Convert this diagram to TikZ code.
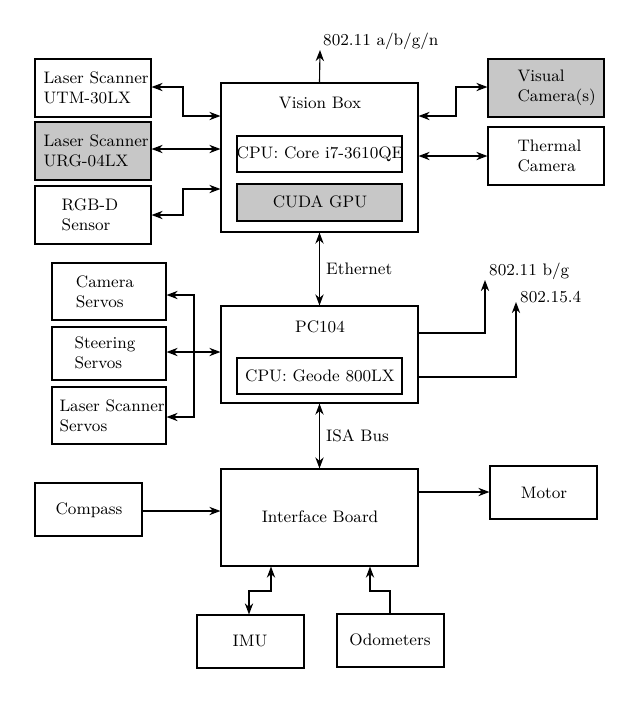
\documentclass[tikz,border=0pt]{standalone}
\usetikzlibrary{arrows.meta}
\begin{document}
\begin{tikzpicture}[x=0.54pt,y=-0.54pt,font=\fontsize{9}{10.5}\selectfont,
 box/.style={draw,semithick,inner sep=2pt,align=left},
 g/.style={fill=black!22},
 a/.style={semithick,-{Stealth[length=6pt,width=4.5pt]}},
 d/.style={semithick,{Stealth[length=6pt,width=4.5pt]}-{Stealth[length=6pt,width=4.5pt]}}]
\useasboundingbox (0,0) rectangle (628,704);
\newcommand{\bx}[6]{\node[box,minimum width={(#4-#2)*0.54pt},minimum height={(#5-#3)*0.54pt},#6] (#1) at ({(#2+#4)/2},{(#3+#5)/2}) {};}
\bx{vb}{221}{83}{418}{232}{}
\node at (320,103) {Vision Box};
\bx{cpu}{237}{136}{402}{172}{}
\node at (320,154) {CPU: Core i7-3610QE};
\bx{gpu}{237}{184}{402}{221}{g}
\node at (320,202) {CUDA GPU};
\bx{utm}{35}{59}{151}{117}{}
\node[align=left,anchor=west] at (37,88) {Laser Scanner\\UTM-30LX};
\bx{urg}{35}{122}{151}{180}{g}
\node[align=left,anchor=west] at (37,151) {Laser Scanner\\URG-04LX};
\bx{rgbd}{35}{186}{151}{244}{}
\node[align=left] at (90,215) {RGB-D\\Sensor};
\bx{vis}{488}{59}{604}{117}{g}
\node[align=left,anchor=west] at (511,88) {Visual\\Camera(s)};
\bx{th}{488}{127}{604}{185}{}
\node[align=left,anchor=west] at (511,156) {Thermal\\Camera};
\bx{pc}{221}{306}{418}{403}{}
\node at (320,327) {PC104};
\bx{geo}{237}{358}{402}{394}{}
\node at (320,376) {CPU: Geode 800LX};
\bx{cs}{52}{263}{166}{320}{}
\node[align=left] at (105,292) {Camera\\Servos};
\bx{ss}{52}{327}{166}{380}{}
\node[align=left] at (105,353) {Steering\\Servos};
\bx{ls}{52}{387}{166}{444}{}
\node[align=left,anchor=west] at (53,416) {Laser Scanner\\Servos};
\bx{ib}{221}{469}{418}{566}{}
\node at (320,517) {Interface Board};
\bx{comp}{35}{483}{142}{536}{}
\node at (89,510) {Compass};
\bx{mot}{490}{466}{597}{519}{}
\node at (544,493) {Motor};
\bx{imu}{197}{615}{304}{668}{}
\node at (250,641) {IMU};
\bx{odo}{337}{614}{444}{667}{}
\node at (390,640) {Odometers};
\coordinate (w1) at (320,50);
\node[anchor=south west,inner sep=1pt] at (321,52) {802.11 a/b/g/n};
\draw[a] (vb.north) -- (w1);
\draw[d] (utm.east |- 0,87) -| (183,116) -- (vb.west |- 0,116);
\draw[d] (urg.east |- 0,149) -- (vb.west |- 0,149);
\draw[d] (rgbd.east |- 0,215) -| (183,189) -- (vb.west |- 0,189);
\draw[d] (vb.east |- 0,116) -| (456,87) -- (vis.west |- 0,87);
\draw[d] (vb.east |- 0,156) -- (th.west |- 0,156);
\draw[d] (vb.south) -- (pc.north) node[midway,right] {Ethernet};
\draw[d] (cs.east |- 0,295) -| (194,417) -- (ls.east |- 0,417);
\draw[d] (ss.east |- 0,352) -- (pc.west |- 0,352);
\coordinate (w2) at (485,280);
\coordinate (w3) at (516,302);
\draw[a] (pc.east |- 0,333) -| (w2);
\draw[a] (pc.east |- 0,377) -| (w3);
\node[anchor=south west,inner sep=1pt] at (487,282) {802.11 b/g};
\node[anchor=south west,inner sep=1pt] at (518,305) {802.15.4};
\draw[d] (pc.south) -- (ib.north) node[midway,right] {ISA Bus};
\draw[a] (comp.east |- 0,511) -- (ib.west |- 0,511);
\draw[a] (ib.east |- 0,492) -- (mot.west |- 0,492);
\draw[d] (ib.south -| 271,0) |- (249,591) -- (imu.north -| 249,0);
\draw[a] (odo.north -| 390,0) |- (370,591) -- (ib.south -| 370,0);
\end{tikzpicture}
\end{document}
